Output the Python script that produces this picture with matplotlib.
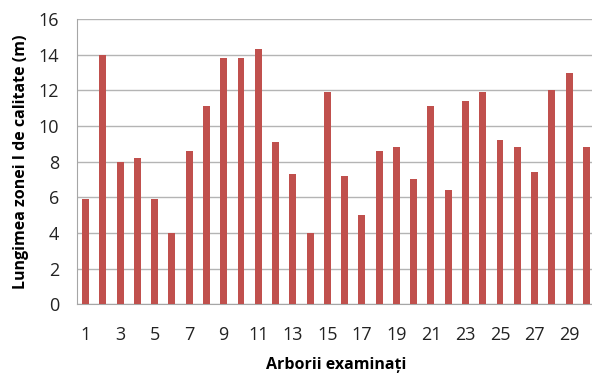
import matplotlib
matplotlib.use("Agg")
import matplotlib.pyplot as plt

# lungimea zonei I de calitate pentru fiecare arbore
arbori = list(range(1, 31))
lungimi = [5.9, 14.0, 8.0, 8.2, 5.9, 4.0, 8.6, 11.1, 13.8, 13.8,
           14.3, 9.1, 7.3, 4.0, 11.9, 7.2, 5.0, 8.6, 8.8, 7.0,
           11.1, 6.4, 11.4, 11.9, 9.2, 8.8, 7.4, 12.0, 13.0, 8.8]
etichete_x = [str(a) for a in arbori if a % 2 == 1]

plt.rcParams['font.family'] = ['Open Sans', 'DejaVu Sans']

fig = plt.figure(figsize=(5.92, 3.75), dpi=100)
ax = fig.add_axes([0.130, 0.189, 0.875, 0.760])

ax.bar(arbori, lungimi, width=0.4, color='#C0504D', zorder=3)

ax.set_ylim(0, 16)
ax.set_yticks(range(0, 17, 2))
ax.set_xlim(0.5, 30.5)
ax.set_xticks([a for a in arbori if a % 2 == 1])
ax.set_xticklabels(etichete_x)

ax.grid(axis='y', color='#b4b4b4', linewidth=1, zorder=0)
for s in ['top', 'right']:
    ax.spines[s].set_visible(False)
ax.spines['left'].set_color('#a6a6a6')
ax.spines['bottom'].set_color('#a6a6a6')
ax.tick_params(axis='both', length=0, labelsize=13, colors='#222222')
ax.tick_params(axis='x', pad=16)
ax.tick_params(axis='y', pad=13)

ax.set_xlabel('Arborii examinați', fontsize=11.5, fontweight='bold', labelpad=9)
ax.set_ylabel('Lungimea zonei I de calitate (m)', fontsize=11.5, fontweight='bold', labelpad=7)

fig.savefig('out.png', dpi=100, facecolor='white')
